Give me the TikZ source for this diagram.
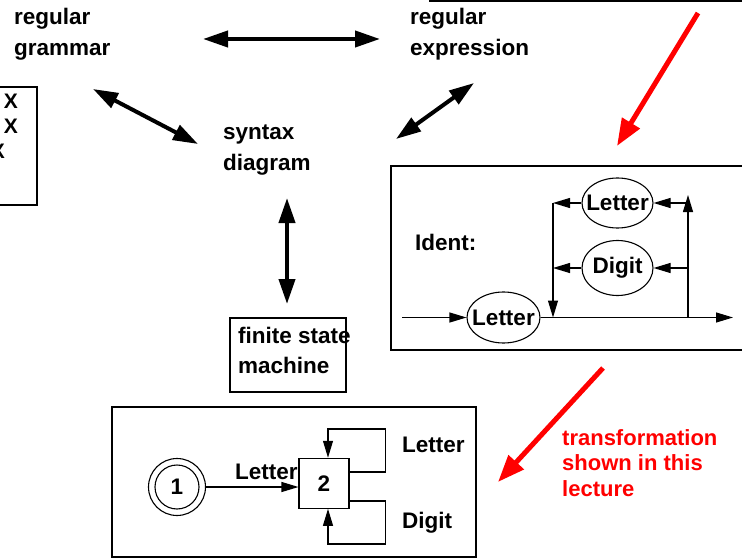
\documentclass[tikz,border=0pt]{standalone}
\usepackage{fontspec}
\setmainfont{Liberation Sans}
\usetikzlibrary{arrows.meta,shapes.geometric}
\begin{document}
\begin{tikzpicture}[x=1pt,y=-1pt,
  bold/.style={font=\fontsize{22.5}{31.5}\selectfont\bfseries},
  txt/.style={bold, inner sep=0pt, align=left, anchor=west},
  mark x/.style={font=\fontsize{21}{24}\selectfont\bfseries, inner sep=0pt},
  wire/.style={line width=1.1pt},
  frame/.style={draw, wire, inner sep=0pt},
  tip/.style={-{Triangle[length=17pt,width=10pt]}},
  big/.style={line width=4pt, {Triangle[length=25pt,width=16pt]}-{Triangle[length=25pt,width=16pt]}},
  hint/.style={draw=red, line width=5pt, -{Triangle[length=27pt,width=20pt]}},
  ell/.style={ellipse, draw, wire, inner sep=0pt, bold},
]
\useasboundingbox (0,0) rectangle (742,559);

% partial frames at the edges
\node[frame, minimum width=370pt, minimum height=101pt] (topbox) at (615,-49.5) {};
\node[frame, minimum width=57pt, minimum height=118pt] (gbox) at (8.5,146) {};
\node[mark x] (x1) at (11,101.5) {X};
\node[mark x] (x2) at (11,126.5) {X};
\node[mark x] (x3) at (-2,151.5) {X};

% the four notations
\node[txt] (rg) at (14,34) {regular\\grammar};
\node[txt] (re) at (410,34) {regular\\expression};
\node[txt] (sd) at (223,150) {syntax\\diagram};
\node[frame, minimum width=116pt, minimum height=74pt] (fsmbox) at (288,355) {};
\node[txt, font=\fontsize{22.5}{30}\selectfont\bfseries] (fsm) at (238,350) {finite state\\machine};

% equivalences
\coordinate (a1) at (203,39);  \coordinate (a2) at (380,39);
\coordinate (b1) at (93,89);   \coordinate (b2) at (198,144);
\coordinate (c1) at (474,83);  \coordinate (c2) at (396,139);
\coordinate (d1) at (287,198); \coordinate (d2) at (287,304);
\draw[big] (a1) -- (a2);
\draw[big] (b1) -- (b2);
\draw[big] (c1) -- (c2);
\draw[big] (d1) -- (d2);

% hints in red
\coordinate (r1) at (698,13);  \coordinate (r2) at (617,146);
\coordinate (r3) at (603,368); \coordinate (r4) at (498,482);
\draw[hint] (r1) -- (r2);
\draw[hint] (r3) -- (r4);
\node[txt, text=red, font=\fontsize{22}{25.5}\selectfont\bfseries] (note) at (562,463) {transformation\\shown in this\\lecture};

% syntax diagram of an identifier
\node[frame, minimum width=380pt, minimum height=184pt] (sdbox) at (581,258) {};
\node[txt] (id) at (415,242) {Ident:};
\node[ell, minimum width=73pt, minimum height=51pt] (L1) at (503.5,317.5) {\makebox[0pt]{Letter}};
\node[ell, minimum width=71pt, minimum height=50pt] (L2) at (617.5,203) {\makebox[0pt]{Letter}};
\node[ell, minimum width=71pt, minimum height=55pt] (Dg) at (617.5,268) {\makebox[0pt]{Digit}};
\coordinate (in) at (402,317.5);
\coordinate (out) at (733,317.5);
\coordinate (jl) at (553,317.5);
\coordinate (jr) at (688,317.5);
\coordinate (jrtop) at (688,195);
\draw[wire,tip] (in) -- (L1.west);
\draw[wire,tip] (L1.east) -- (out);
\draw[wire,tip] (L2.west) -- (L2.west -| jl);
\draw[wire,tip] (L2.west -| jl) -- (jl);
\draw[wire,tip] (Dg.west) -- (Dg.west -| jl);
\draw[wire,tip] (jr) -- (jrtop);
\draw[wire,tip] (L2.east -| jr) -- (L2.east);
\draw[wire,tip] (Dg.east -| jr) -- (Dg.east);

% finite state machine
\node[frame, minimum width=364pt, minimum height=150pt] (fsabox) at (294,482) {};
\node[circle, draw, wire, minimum size=44pt, inner sep=0pt, bold] (s1) at (177,487) {1};
\node[circle, draw, wire, minimum size=57pt, inner sep=0pt] (s1o) at (177,487) {};
\node[draw, wire, minimum size=50pt, inner sep=0pt, bold] (s2) at (324,483.3) {2};
\draw[wire,tip] (s1o.east) -- (s1o.east -| s2.west);
\node[txt] (lab1) at (235,472) {Letter};
\draw[wire,tip] ([yshift=11.3pt]s2.east) -- ++(36,0) -- ++(0,-43) -| ([xshift=4pt]s2.north);
\draw[wire,tip] ([yshift=-17.7pt]s2.east) -- ++(36,0) -- ++(0,43) -| ([xshift=4pt]s2.south);
\node[txt] (lab2) at (402,445) {Letter};
\node[txt] (lab3) at (402,523) {Digit};
\end{tikzpicture}
\end{document}
